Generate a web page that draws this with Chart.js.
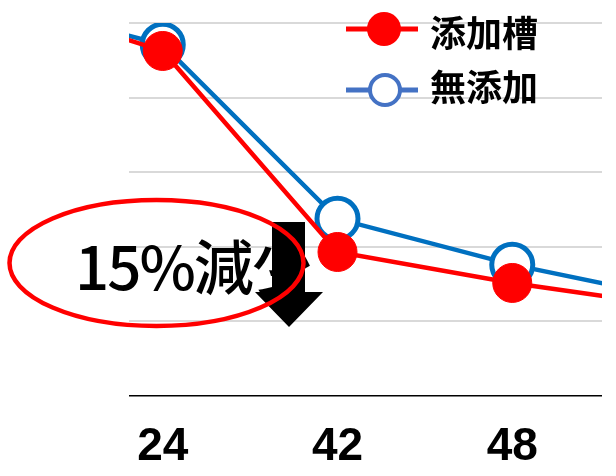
<!DOCTYPE html>
<html lang="ja">
<head>
    <meta charset="UTF-8">
    <title>添加槽 / 無添加</title>
    <script src="https://cdn.jsdelivr.net/npm/chart.js"></script>
    <style>
        html, body {
            margin: 0;
            padding: 0;
            background: #fff;
            overflow: hidden;
        }
        .frame {
            position: relative;
            width: 616px;
            height: 476px;
            overflow: hidden;
        }
        /* the plot is wider than the picture: its first and last points are cut off */
        .plot {
            position: absolute;
            left: -12px;
            top: 0;
            width: 699px;
            height: 499px;
        }
    </style>
</head>
<body>
    <div class="frame">
        <div class="plot"><canvas id="chart"></canvas></div>
    </div>

    <script>
        // outer categories are outside the visible picture
        var categories = ['', '24', '42', '48', ''];
        var seriesLabels = ['添加槽', '無添加'];
        var addedTank = [107.4, 92.5, 38.6, 30.3, 23.6];
        var noAdditive = [106.4, 94.2, 47.5, 35.2, 25.5];
        var yTicks = [0, 20, 40, 60, 80, 100];

        var CANVAS_LEFT = -12;
        function px(x) { return x - CANVAS_LEFT; }

        var RED = '#FF0000';
        var BLUE = '#0070C0';
        var LEGEND_BLUE = '#4472C4';

        var overlay = {
            id: 'overlay',
            afterDraw: function (chart) {
                var ctx = chart.ctx;
                ctx.save();

                // white areas outside the original plot area
                ctx.fillStyle = '#fff';
                ctx.fillRect(0, 0, px(129), 399);
                ctx.fillRect(px(602), 0, 200, 399);

                // legend
                var items = [
                    { label: chart.data.datasets[0].label, y: 29, ty: 33, color: RED, filled: true },
                    { label: chart.data.datasets[1].label, y: 90, ty: 87, color: LEGEND_BLUE, filled: false }
                ];
                items.forEach(function (it) {
                    ctx.strokeStyle = it.color;
                    ctx.lineWidth = 5;
                    ctx.beginPath();
                    ctx.moveTo(px(346), it.y);
                    ctx.lineTo(px(418), it.y);
                    ctx.stroke();
                    ctx.beginPath();
                    if (it.filled) {
                        ctx.arc(px(384), it.y, 17, 0, Math.PI * 2);
                        ctx.fillStyle = it.color;
                        ctx.fill();
                    } else {
                        ctx.arc(px(385), it.y, 15, 0, Math.PI * 2);
                        ctx.fillStyle = '#fff';
                        ctx.fill();
                        ctx.lineWidth = 4;
                        ctx.stroke();
                    }
                    ctx.fillStyle = '#000';
                    ctx.font = 'bold 36px "Noto Sans CJK JP"';
                    ctx.textAlign = 'left';
                    ctx.textBaseline = 'middle';
                    ctx.fillText(it.label, px(430), it.ty);
                });

                // callout text
                ctx.fillStyle = '#000';
                ctx.font = '500 60px "Noto Sans CJK JP"';
                ctx.textBaseline = 'alphabetic';
                ctx.letterSpacing = '-2px';
                ctx.fillText('15%減少', px(75), 290);
                ctx.letterSpacing = '0px';

                // down arrow
                ctx.beginPath();
                ctx.moveTo(px(272), 222);
                ctx.lineTo(px(305), 222);
                ctx.lineTo(px(305), 292);
                ctx.lineTo(px(323), 292);
                ctx.lineTo(px(289), 327);
                ctx.lineTo(px(255), 292);
                ctx.lineTo(px(272), 292);
                ctx.closePath();
                ctx.fill();

                // red ellipse
                ctx.strokeStyle = RED;
                ctx.lineWidth = 4.5;
                ctx.beginPath();
                ctx.ellipse(px(156.5), 263, 147, 63, 0, 0, Math.PI * 2);
                ctx.stroke();

                ctx.restore();
            }
        };

        var ctx = document.getElementById('chart').getContext('2d');
        var chart = new Chart(ctx, {
            type: 'line',
            data: {
                labels: categories,
                datasets: [{
                    label: seriesLabels[0],
                    data: addedTank,
                    borderColor: RED,
                    borderWidth: 4.5,
                    backgroundColor: RED,
                    pointBackgroundColor: RED,
                    pointBorderColor: RED,
                    pointBorderWidth: 1,
                    pointRadius: 19.5,
                    tension: 0
                }, {
                    label: seriesLabels[1],
                    data: noAdditive,
                    borderColor: BLUE,
                    borderWidth: 4.5,
                    backgroundColor: '#fff',
                    pointBackgroundColor: '#fff',
                    pointBorderColor: BLUE,
                    pointBorderWidth: 5,
                    pointRadius: 20.5,
                    tension: 0
                }]
            },
            options: {
                responsive: true,
                maintainAspectRatio: false,
                animation: false,
                layout: { autoPadding: false, padding: { top: 23, left: 0, right: 0, bottom: 0 } },
                plugins: {
                    legend: { display: false },
                    tooltip: { enabled: false }
                },
                scales: {
                    x: {
                        offset: false,
                        grid: { color: 'rgba(0,0,0,0)', drawTicks: false },
                        border: { color: '#000', width: 1.5 },
                        ticks: {
                            color: '#000',
                            padding: 0,
                            maxRotation: 0,
                            autoSkip: false,
                            font: { family: '"Liberation Sans"', size: 46, weight: 'bold', lineHeight: 2.24 }
                        }
                    },
                    y: {
                        min: yTicks[0],
                        max: yTicks[yTicks.length - 1],
                        ticks: { display: false, stepSize: yTicks[1] - yTicks[0] },
                        grid: {
                            drawTicks: false,
                            lineWidth: 2,
                            color: function (c) {
                                return c.tick && c.tick.value === 0 ? 'rgba(0,0,0,0)' : '#d9d9d9';
                            }
                        },
                        border: { display: false }
                    }
                }
            },
            plugins: [overlay]
        });
    </script>
</body>
</html>
